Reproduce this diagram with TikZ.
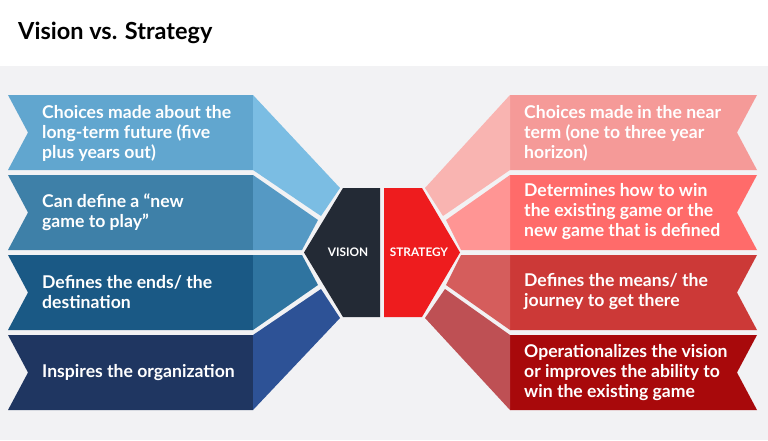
\documentclass[tikz,border=0pt]{standalone}
\usepackage{fontspec}
\setmainfont{Lato}
\begin{document}
\begin{tikzpicture}[x=1pt,y=-1pt,
  txt/.style={text=white,font=\fontsize{17.6}{20}\selectfont\bfseries,align=left,anchor=west,inner sep=0pt},
  lab/.style={text=white,font=\fontsize{11.8}{13}\selectfont\bfseries,inner sep=0pt}]
\definecolor{bg}{HTML}{F2F2F4}
\definecolor{lb1}{HTML}{61A6CF}\definecolor{lp1}{HTML}{7BBDE3}
\definecolor{lb2}{HTML}{3E80A8}\definecolor{lp2}{HTML}{5599C4}
\definecolor{lb3}{HTML}{1A5985}\definecolor{lp3}{HTML}{2F74A0}
\definecolor{lb4}{HTML}{1F3661}\definecolor{lp4}{HTML}{2D5296}
\definecolor{vis}{HTML}{232A35}\definecolor{str}{HTML}{EE1C1E}
\definecolor{rb1}{HTML}{F59A98}\definecolor{rp1}{HTML}{F9B4B1}
\definecolor{rb2}{HTML}{FF6B6A}\definecolor{rp2}{HTML}{FF9594}
\definecolor{rb3}{HTML}{CC3937}\definecolor{rp3}{HTML}{D55D5C}
\definecolor{rb4}{HTML}{A8090B}\definecolor{rp4}{HTML}{BE5054}
\useasboundingbox (0,0) rectangle (768,440);
\fill[white] (0,0) rectangle (768,66);
\fill[bg] (0,66) rectangle (768,440);
\node[anchor=west,inner sep=0pt,font=\fontsize{23.5}{28}\selectfont\bfseries] (title) at (18,33) {Vision vs. Strategy};
% left bands
\foreach \t/\c in {95/lb1,175/lb2,255/lb3,335/lb4}{
  \fill[\c] (8,\t) -- (253,\t) -- (253,\t+75) -- (8,\t+75) -- (28,\t+37.5) -- cycle;}
\fill[lp1] (253,95) -- (340,188) -- (321,216) -- (253,170) -- cycle;
\fill[lp2] (253,175) -- (318,220) -- (302,250) -- (253,250) -- cycle;
\fill[lp3] (253,255) -- (302,255) -- (318,285) -- (253,330) -- cycle;
\fill[lp4] (253,335) -- (321,289) -- (340,318) -- (253,410) -- cycle;
% right bands
\foreach \t/\c in {95/rb1,175/rb2,255/rb3,335/rb4}{
  \fill[\c] (510,\t) -- (757,\t) -- (737,\t+37.5) -- (757,\t+75) -- (510,\t+75) -- cycle;}
\fill[rp1] (510,95) -- (425,188) -- (443,216) -- (510,170) -- cycle;
\fill[rp2] (510,175) -- (446,220) -- (461,250) -- (510,250) -- cycle;
\fill[rp3] (510,255) -- (461,255) -- (446,285) -- (510,330) -- cycle;
\fill[rp4] (510,335) -- (445,289) -- (425,318) -- (510,410) -- cycle;
% hexes
\fill[vis] (343,188) -- (380,188) -- (380,317) -- (343,317) -- (304,252.5) -- cycle;
\fill[str] (384,188) -- (422,188) -- (460,252.5) -- (422,317) -- (384,317) -- cycle;
\node[lab] (v) at (348,252.5) {VISION};
\node[lab] (s) at (419,252.5) {STRATEGY};
% texts
\node[txt] (l1) at (42,133) {Choices made about the\\long-term future (five\\plus years out)};
\node[txt] (l2) at (42,212) {Can define a “new\\game to play”};
\node[txt] (l3) at (42,292) {Defines the ends/ the\\destination};
\node[txt] (l4) at (42,373) {Inspires the organization};
\node[txt] (r1) at (524,133) {Choices made in the near\\term (one to three year\\horizon)};
\node[txt] (r2) at (524,212) {Determines how to win\\the existing game or the\\new game that is defined};
\node[txt] (r3) at (524,292) {Defines the means/ the\\journey to get there};
\node[txt] (r4) at (524,373) {Operationalizes the vision\\or improves the ability to\\win the existing game};
\end{tikzpicture}
\end{document}
